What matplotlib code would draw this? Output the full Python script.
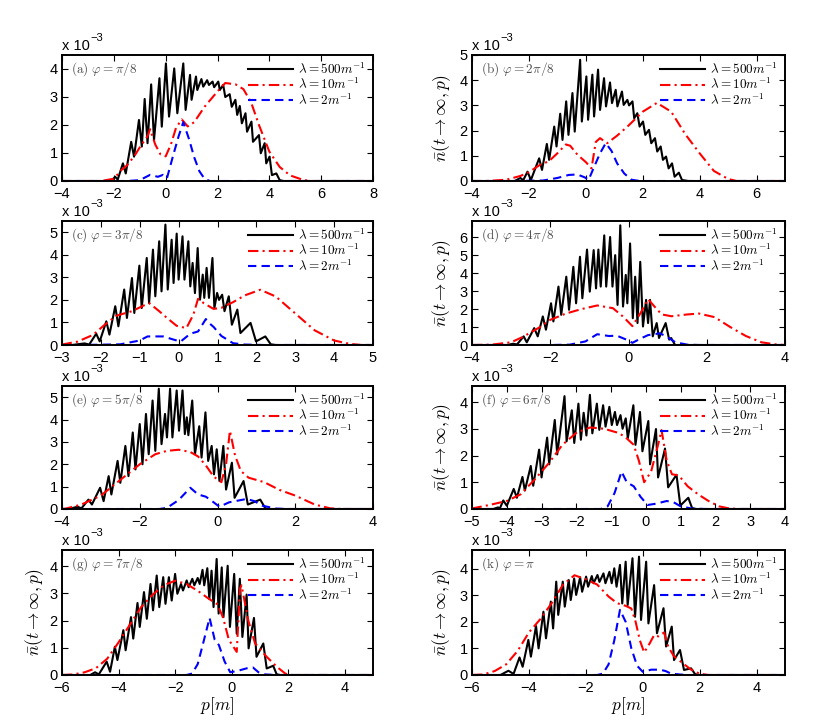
import matplotlib
matplotlib.use("Agg")
import matplotlib.pyplot as plt
from matplotlib.ticker import MultipleLocator
import numpy as np

plt.rcParams["font.family"] = ["Liberation Sans", "DejaVu Sans"]
plt.rcParams["mathtext.fontset"] = "cm"

# all y values are in units of 1e-3
# ---- (a) phi = pi/8 ----
a_black_x = [-2.1, -1.95, -1.85, -1.65, -1.54, -1.33, -1.22, -1.03, -0.92, -0.81, -0.70, -0.56, -0.45, -0.24,
             -0.15, 0.01, 0.13, 0.33, 0.45, 0.68, 0.77, 0.94, 1.0, 1.17, 1.22, 1.38, 1.45, 1.6, 1.67, 1.81, 1.87,
             2.03, 2.09, 2.22, 2.3, 2.47, 2.55, 2.69, 2.76, 2.86, 2.94, 3.08, 3.14, 3.31, 3.37, 3.6, 3.67, 3.82,
             3.88, 4.01, 4.1, 4.27, 4.4, 4.55]
a_black_y = [0, 0.15, 0.05, 0.63, 0.27, 1.40, 0.87, 2.18, 1.23, 2.93, 1.35, 3.45, 1.46, 3.67, 1.94, 4.2, 2.3,
             4.02, 2.42, 4.2, 2.54, 3.79, 2.9, 3.73, 3.25, 3.64, 3.37, 3.6, 3.43, 3.55, 3.35, 3.55, 3.25, 3.43,
             3.0, 3.1, 2.65, 2.9, 2.36, 2.68, 2.06, 2.42, 1.76, 2.12, 1.4, 1.64, 0.99, 1.35, 0.63, 0.87, 0.21,
             0.27, 0.03, 0]
a_red_x = [-2.5, -2.0, -1.7, -1.5, -1.2, -1.0, -0.7, -0.6, -0.4, -0.2, 0.0, 0.2, 0.4, 0.62, 0.85, 1.1, 1.5,
           2.0, 2.3, 2.7, 3.0, 3.3, 3.6, 4.0, 4.4, 4.8, 5.3, 5.6]
a_red_y = [0, 0.08, 0.4, 0.55, 0.9, 1.2, 1.6, 1.85, 1.3, 0.95, 0.88, 1.3, 1.9, 2.2, 1.95, 2.1, 2.65, 3.2, 3.5,
           3.45, 3.28, 2.8, 2.0, 1.05, 0.5, 0.2, 0.04, 0]
a_blue_x = [-1.5, -1.0, -0.6, -0.3, -0.1, 0.05, 0.3, 0.5, 0.68, 0.9, 1.1, 1.3, 1.5, 1.7]
a_blue_y = [0, 0.03, 0.22, 0.15, 0.22, 0.1, 0.95, 1.6, 2.1, 1.5, 0.85, 0.35, 0.08, 0]

# ---- (b) phi = 2pi/8 ----
b_black_x = [-2.5, -2.3, -2.2, -2.05, -1.93, -1.64, -1.54, -1.37, -1.29, -1.11, -1.03, -0.9, -0.82, -0.69,
             -0.61, -0.47, -0.39, -0.2, -0.14, 0.02, 0.08, 0.23, 0.29, 0.43, 0.5, 0.64, 0.71, 0.85, 0.92, 1.05,
             1.11, 1.27, 1.33, 1.46, 1.52, 1.64, 1.7, 1.81, 1.89, 2.01, 2.09, 2.22, 2.3, 2.43, 2.51, 2.63, 2.71,
             2.82, 2.91, 3.03, 3.12, 3.27, 3.38, 3.6]
b_black_y = [0, 0.12, 0.03, 0.37, 0.04, 0.9, 0.44, 1.47, 0.84, 2.16, 1.37, 2.67, 1.63, 3.16, 1.83, 3.49, 1.96,
             4.81, 2.36, 4.15, 2.43, 4.22, 2.56, 4.42, 2.82, 4.08, 2.96, 3.91, 3.09, 3.62, 2.96, 3.55, 3.02,
             3.22, 3.0, 3.16, 2.49, 2.69, 2.16, 2.36, 1.83, 2.03, 1.5, 1.7, 1.17, 1.37, 0.84, 0.97, 0.5, 0.7,
             0.17, 0.33, 0.04, 0]
b_red_x = [-3.5, -2.8, -2.3, -2.0, -1.6, -1.3, -1.0, -0.7, -0.55, -0.3, 0.0, 0.2, 0.35, 0.5, 0.75, 1.1, 1.5,
           2.0, 2.5, 3.0, 3.5, 4.0, 4.5, 5.0, 5.3]
b_red_y = [0, 0.05, 0.2, 0.35, 0.65, 0.78, 1.1, 1.45, 1.4, 1.05, 0.75, 0.5, 1.55, 1.7, 1.5, 1.8, 2.2, 2.75,
           3.1, 2.75, 1.85, 1.1, 0.4, 0.08, 0]
b_blue_x = [-2.5, -1.5, -1.0, -0.6, -0.3, -0.05, 0.1, 0.25, 0.5, 0.7, 0.9, 1.1, 1.35, 1.6, 1.9]
b_blue_y = [0, 0.02, 0.12, 0.24, 0.26, 0.15, 0.05, 0.45, 1.1, 1.5, 1.2, 0.7, 0.3, 0.05, 0]

# ---- (c) phi = 3pi/8 ----
c_black_x = [-2.75, -2.42, -2.3, -2.12, -2.03, -1.86, -1.78, -1.63, -1.55, -1.4, -1.33, -1.2, -1.14, -1.01,
             -0.95, -0.82, -0.76, -0.66, -0.6, -0.5, -0.44, -0.34, -0.28, -0.18, -0.13, -0.05, 0.0, 0.1, 0.15,
             0.25, 0.3, 0.36, 0.42, 0.49, 0.55, 0.62, 0.66, 0.72, 0.78, 0.87, 0.92, 0.99, 1.04, 1.12, 1.18, 1.29,
             1.37, 1.51, 1.59, 1.85, 1.99, 2.23, 2.37, 2.5]
c_black_y = [0, 0.07, 0.02, 0.5, 0.16, 1.05, 0.46, 1.72, 0.83, 2.46, 1.2, 2.97, 1.42, 3.52, 1.64, 3.86, 1.86,
             4.23, 2.16, 4.6, 2.38, 5.34, 2.46, 4.67, 2.75, 4.94, 2.9, 4.82, 2.9, 4.6, 2.6, 3.64, 2.3, 4.3, 2.01,
             3.12, 2.09, 3.42, 2.09, 3.86, 1.64, 2.31, 2.0, 2.23, 1.5, 2.16, 0.9, 1.57, 0.53, 0.98, 0.16, 0.38,
             0.03, 0]
c_red_x = [-3.0, -2.6, -2.2, -1.9, -1.6, -1.2, -0.9, -0.75, -0.5, -0.3, -0.05, 0.2, 0.38, 0.5, 0.65, 0.9, 1.1,
           1.4, 1.7, 2.1, 2.5, 3.0, 3.5, 4.0, 4.4, 4.7]
c_red_y = [0.02, 0.15, 0.45, 0.9, 1.3, 1.5, 1.75, 1.85, 1.5, 1.2, 0.85, 0.75, 1.35, 2.05, 1.85, 1.6, 1.65, 1.9,
           2.2, 2.45, 2.15, 1.4, 0.65, 0.2, 0.05, 0]
c_blue_x = [-2.5, -1.5, -1.0, -0.8, -0.4, -0.15, 0.05, 0.3, 0.5, 0.7, 0.8, 0.9, 1.1, 1.4, 1.7, 2.2]
c_blue_y = [0, 0.03, 0.2, 0.38, 0.38, 0.25, 0.15, 0.5, 0.6, 1.15, 0.95, 0.8, 0.4, 0.08, 0.02, 0]

# ---- (d) phi = 4pi/8 ----
d_black_x = [-3.1, -2.95, -2.85, -2.68, -2.6, -2.41, -2.32, -2.19, -2.11, -1.98, -1.92, -1.79, -1.72, -1.59,
             -1.52, -1.41, -1.34, -1.24, -1.18, -1.06, -0.99, -0.89, -0.83, -0.77, -0.71, -0.62, -0.57, -0.47,
             -0.41, -0.34, -0.28, -0.21, -0.14, -0.07, -0.03, 0.04, 0.11, 0.17, 0.23, 0.3, 0.37, 0.45, 0.5, 0.55,
             0.62, 0.72, 0.78, 0.95, 1.04, 1.09, 1.19]
d_black_y = [0, 0.07, 0.03, 0.48, 0.15, 0.94, 0.48, 1.59, 0.85, 2.32, 1.31, 3.25, 1.68, 3.8, 1.96, 4.35, 2.32,
             4.91, 2.6, 5.31, 2.97, 5.28, 3.15, 5.31, 3.25, 6.1, 3.25, 6.01, 3.25, 5.0, 2.23, 6.66, 2.14, 3.9,
             2.32, 5.65, 1.49, 3.8, 1.22, 4.63, 1.03, 2.51, 1.22, 2.51, 0.48, 1.22, 0.39, 1.22, 0.3, 0.39, 0]
d_red_x = [-3.5, -3.0, -2.7, -2.3, -2.0, -1.6, -1.2, -0.8, -0.4, -0.15, 0.1, 0.3, 0.5, 0.7, 0.85, 1.1, 1.5,
           1.8, 2.2, 2.6, 3.0, 3.4, 3.8]
d_red_y = [0.02, 0.15, 0.45, 0.95, 1.4, 1.75, 2.0, 2.2, 2.05, 1.6, 1.05, 1.75, 2.55, 2.05, 1.7, 1.6, 1.7, 1.75,
           1.55, 1.0, 0.5, 0.15, 0.02]
d_blue_x = [-2.0, -1.5, -1.1, -0.8, -0.5, -0.3, 0.0, 0.1, 0.3, 0.5, 0.8, 0.95, 1.2, 1.5, 1.8]
d_blue_y = [0, 0.02, 0.2, 0.6, 0.5, 0.52, 0.25, 0.12, 0.35, 0.55, 0.65, 0.5, 0.15, 0.02, 0]

# ---- (e) phi = 5pi/8 ----
e_black_x = [-3.83, -3.6, -3.5, -3.32, -3.23, -3.02, -2.93, -2.8, -2.73, -2.57, -2.5, -2.37, -2.29, -2.18,
             -2.11, -2.0, -1.93, -1.84, -1.77, -1.67, -1.6, -1.51, -1.44, -1.35, -1.3, -1.22, -1.16, -1.05, -0.99,
             -0.9, -0.84, -0.79, -0.75, -0.65, -0.58, -0.47, -0.41, -0.31, -0.24, -0.15, -0.09, -0.02, 0.05, 0.15,
             0.22, 0.37, 0.44, 0.67, 0.78, 1.1, 1.23, 1.31]
e_black_y = [0, 0.1, 0.03, 0.42, 0.2, 0.95, 0.35, 1.47, 0.65, 2.15, 1.17, 2.82, 1.47, 3.42, 1.77, 3.8, 2.0,
             4.25, 2.45, 4.85, 2.6, 5.38, 2.9, 4.25, 3.2, 5.38, 3.2, 5.3, 3.5, 5.3, 3.35, 4.1, 3.3, 4.85, 2.45,
             3.7, 2.3, 4.32, 2.15, 2.82, 1.55, 2.67, 1.25, 2.82, 0.87, 2.07, 0.5, 1.25, 0.2, 0.42, 0.03, 0]
e_red_x = [-3.9, -3.5, -3.0, -2.5, -2.0, -1.6, -1.3, -1.0, -0.7, -0.5, -0.3, -0.1, 0.1, 0.22, 0.32, 0.45, 0.6,
           0.8, 1.2, 1.6, 2.0, 2.5, 2.9, 3.2]
e_red_y = [0.02, 0.2, 0.6, 1.3, 2.0, 2.45, 2.6, 2.65, 2.55, 2.35, 1.95, 1.45, 1.2, 2.0, 3.5, 2.4, 1.7, 1.4, 1.2,
           0.85, 0.6, 0.2, 0.03, 0]
e_blue_x = [-1.5, -1.3, -1.0, -0.7, -0.5, -0.3, -0.1, 0.05, 0.3, 0.6, 0.75, 0.95, 1.15, 1.5, 1.8]
e_blue_y = [0, 0.05, 0.4, 0.95, 0.65, 0.55, 0.3, 0.1, 0.3, 0.4, 0.45, 0.35, 0.15, 0.02, 0]

# ---- (f) phi = 6pi/8 ----
f_black_x = [-4.39, -4.25, -4.2, -4.1, -4.0, -3.8, -3.71, -3.55, -3.48, -3.31, -3.24, -3.07, -3.0, -2.84, -2.78,
             -2.62, -2.55, -2.34, -2.28, -2.13, -2.06, -1.94, -1.87, -1.79, -1.71, -1.61, -1.54, -1.41, -1.34,
             -1.23, -1.16, -1.05, -0.98, -0.89, -0.83, -0.73, -0.67, -0.58, -0.52, -0.36, -0.3, -0.17, -0.1, 0.07,
             0.12, 0.29, 0.35, 0.55, 0.64, 0.88, 0.99, 1.22, 1.33, 1.46]
f_black_y = [0, 0.06, 0.02, 0.32, 0.12, 0.75, 0.42, 1.2, 0.69, 1.61, 0.87, 2.22, 1.18, 2.67, 1.67, 3.33, 2.04,
             4.22, 2.53, 3.69, 2.47, 3.94, 2.59, 3.6, 2.75, 4.27, 2.83, 3.94, 2.96, 3.88, 3.08, 3.82, 3.14, 3.63,
             3.14, 3.51, 3.0, 3.39, 2.65, 3.88, 2.4, 3.63, 2.16, 3.29, 1.67, 2.99, 1.18, 2.26, 0.81, 1.28, 0.13,
             0.42, 0.03, 0]
f_red_x = [-5.0, -4.5, -4.0, -3.6, -3.2, -2.8, -2.4, -2.0, -1.6, -1.2, -0.8, -0.6, -0.35, -0.2, -0.05, 0.15,
           0.35, 0.45, 0.6, 0.75, 0.95, 1.2, 1.5, 1.8, 2.1, 2.4, 2.7]
f_red_y = [0.02, 0.15, 0.3, 0.55, 1.1, 1.7, 2.4, 2.85, 3.05, 3.0, 2.85, 2.7, 2.4, 1.8, 1.0, 1.4, 2.4, 2.95, 1.8,
           1.3, 1.25, 0.85, 0.55, 0.3, 0.1, 0.02, 0]
f_blue_x = [-1.3, -1.1, -0.9, -0.7, -0.55, -0.35, -0.15, 0.05, 0.3, 0.6, 0.8, 1.0, 1.3, 1.7]
f_blue_y = [0, 0.1, 0.6, 1.4, 1.0, 0.85, 0.45, 0.15, 0.2, 0.3, 0.25, 0.1, 0.02, 0]

# ---- (g) phi = 7pi/8 ----
g_black_x = [-5.0, -4.83, -4.7, -4.42, -4.3, -4.13, -4.04, -3.83, -3.75, -3.56, -3.48, -3.33, -3.25, -3.1, -3.0,
             -2.87, -2.78, -2.65, -2.56, -2.42, -2.34, -2.22, -2.12, -2.0, -1.92, -1.79, -1.72, -1.59, -1.52,
             -1.39, -1.32, -1.2, -1.13, -1.03, -0.97, -0.86, -0.79, -0.71, -0.64, -0.53, -0.46, -0.35, -0.29,
             -0.14, -0.06, 0.09, 0.18, 0.29, 0.38, 0.53, 0.6, 0.79, 0.88, 1.12, 1.24, 1.47, 1.59, 1.71]
g_black_y = [0, 0.1, 0.02, 0.49, 0.12, 1.04, 0.55, 1.65, 0.91, 2.13, 1.34, 2.65, 1.77, 3.05, 2.07, 3.35, 2.38,
             3.66, 2.5, 3.6, 2.62, 3.6, 2.74, 3.72, 2.99, 3.35, 3.11, 3.48, 3.23, 3.54, 3.3, 3.57, 3.35, 3.87, 3.3,
             3.93, 2.8, 3.84, 2.5, 4.27, 2.26, 3.96, 2.13, 4.02, 1.77, 3.72, 1.52, 3.54, 1.4, 2.96, 0.98, 2.1,
             0.67, 1.16, 0.24, 0.34, 0.03, 0]
g_red_x = [-5.6, -5.2, -4.8, -4.4, -4.0, -3.6, -3.2, -2.8, -2.4, -2.0, -1.6, -1.2, -0.8, -0.5, -0.3, -0.1, 0.18,
           0.3, 0.35, 0.59, 0.83, 1.24, 1.6, 1.9, 2.1]
g_red_y = [0.02, 0.1, 0.25, 0.6, 1.2, 1.85, 2.5, 2.95, 3.3, 3.47, 3.35, 3.1, 2.8, 2.6, 2.1, 1.3, 0.85, 3.2, 3.3,
           2.0, 1.16, 0.67, 0.3, 0.05, 0]
g_blue_x = [-1.6, -1.4, -1.2, -1.0, -0.78, -0.6, -0.45, -0.25, -0.05, 0.2, 0.55, 0.75, 0.95, 1.2, 1.6]
g_blue_y = [0, 0.05, 0.4, 1.2, 2.1, 1.3, 1.1, 0.5, 0.1, 0.15, 0.25, 0.28, 0.1, 0.02, 0]

# ---- (k) phi = pi ----
k_black_x = [-5.0, -4.72, -4.54, -4.33, -4.22, -4.02, -3.93, -3.75, -3.66, -3.49, -3.4, -3.23, -3.15, -3.04,
             -2.97, -2.81, -2.74, -2.6, -2.53, -2.41, -2.34, -2.2, -2.13, -1.99, -1.92, -1.79, -1.73, -1.59, -1.52,
             -1.38, -1.31, -1.17, -1.09, -1.0, -0.92, -0.8, -0.72, -0.6, -0.53, -0.36, -0.27, -0.13, -0.06, 0.12,
             0.2, 0.4, 0.5, 0.73, 0.82, 1.02, 1.1, 1.31, 1.45, 1.7, 1.84, 2.01]
k_black_y = [0, 0.16, 0.04, 0.66, 0.31, 1.32, 0.69, 1.84, 1.0, 2.38, 1.38, 2.76, 1.75, 3.51, 2.26, 3.51, 2.57,
             3.57, 2.82, 3.63, 3.01, 3.67, 3.13, 3.7, 3.32, 3.72, 3.45, 3.76, 3.5, 3.82, 3.45, 3.88, 3.45, 4.01,
             3.32, 4.14, 2.69, 4.26, 2.63, 4.39, 2.19, 4.45, 2.07, 4.26, 1.94, 3.38, 1.57, 2.51, 1.07, 1.82, 0.56,
             0.94, 0.19, 0.25, 0.03, 0]
k_red_x = [-5.6, -5.2, -4.8, -4.4, -4.0, -3.6, -3.2, -2.8, -2.4, -2.0, -1.6, -1.2, -0.9, -0.6, -0.4, -0.25,
           -0.1, 0.05, 0.25, 0.4, 0.55, 0.75, 0.9, 1.1, 1.4, 1.7, 2.0, 2.3]
k_red_y = [0.02, 0.15, 0.4, 0.9, 1.6, 2.1, 2.7, 3.4, 3.75, 3.6, 3.4, 2.95, 2.7, 2.6, 2.5, 2.0, 1.3, 0.85, 1.2,
           1.5, 1.45, 1.6, 1.05, 0.7, 0.45, 0.2, 0.05, 0]
k_blue_x = [-1.6, -1.4, -1.2, -1.0, -0.8, -0.6, -0.4, -0.2, 0.0, 0.3, 0.6, 0.8, 1.0, 1.3, 1.6]
k_blue_y = [0, 0.05, 0.4, 1.3, 2.45, 2.0, 1.0, 0.35, 0.12, 0.2, 0.2, 0.15, 0.05, 0.02, 0]

labels = [r"$\mathrm{(a)}\ \varphi=\pi/8$", r"$\mathrm{(b)}\ \varphi=2\pi/8$", r"$\mathrm{(c)}\ \varphi=3\pi/8$",
          r"$\mathrm{(d)}\ \varphi=4\pi/8$", r"$\mathrm{(e)}\ \varphi=5\pi/8$", r"$\mathrm{(f)}\ \varphi=6\pi/8$",
          r"$\mathrm{(g)}\ \varphi=7\pi/8$", r"$\mathrm{(k)}\ \varphi=\pi$"]
xlims = [(-4, 8), (-4, 7), (-3, 5), (-4, 4), (-4, 4), (-5, 4), (-6, 5), (-6, 5)]
ylims = [4.5, 5, 5.5, 6.9, 5.5, 4.6, 4.6, 4.7]
xsteps = [2, 2, 1, 2, 2, 1, 2, 2]
legend_names = [r"$\lambda=500m^{-1}$", r"$\lambda=10m^{-1}$", r"$\lambda=2m^{-1}$"]

curves = [
    (a_black_x, a_black_y, a_red_x, a_red_y, a_blue_x, a_blue_y),
    (b_black_x, b_black_y, b_red_x, b_red_y, b_blue_x, b_blue_y),
    (c_black_x, c_black_y, c_red_x, c_red_y, c_blue_x, c_blue_y),
    (d_black_x, d_black_y, d_red_x, d_red_y, d_blue_x, d_blue_y),
    (e_black_x, e_black_y, e_red_x, e_red_y, e_blue_x, e_blue_y),
    (f_black_x, f_black_y, f_red_x, f_red_y, f_blue_x, f_blue_y),
    (g_black_x, g_black_y, g_red_x, g_red_y, g_blue_x, g_blue_y),
    (k_black_x, k_black_y, k_red_x, k_red_y, k_blue_x, k_blue_y),
]

W, H = 830, 723
fig = plt.figure(figsize=(W / 100, H / 100), dpi=100)
col_px = [(62, 311), (472, 313)]
row_px = [(55, 126), (221, 124), (386, 123), (550, 125)]


def padded(x, y, lim):
    # curves sit on zero outside the region that was read
    return np.r_[lim[0], x, lim[1]], np.r_[0, y, 0]


for i, cv in enumerate(curves):
    r, c = divmod(i, 2)
    left, w = col_px[c]
    top, h = row_px[r]
    ax = fig.add_axes([left / W, 1 - (top + h) / H, w / W, h / H])
    lim = xlims[i]
    bx, by = padded(cv[0], cv[1], lim)
    rx, ry = padded(cv[2], cv[3], lim)
    ux, uy = padded(cv[4], cv[5], lim)
    ax.plot(bx, by, color="black", lw=1.5, solid_joinstyle="round", label=legend_names[0])
    ax.plot(rx, ry, color="red", lw=1.5, ls=(0, (5, 2, 1, 2)), label=legend_names[1])
    ax.plot(ux, uy, color="blue", lw=1.5, ls=(0, (4, 2.5)), label=legend_names[2])
    ax.set_xlim(lim)
    ax.set_ylim(0, ylims[i])
    ax.xaxis.set_major_locator(MultipleLocator(xsteps[i]))
    ax.yaxis.set_major_locator(MultipleLocator(1))
    ax.tick_params(direction="in", top=True, right=True, length=4, width=0.8, labelsize=10.5)
    ax.tick_params(axis="x", pad=4.5)
    ax.tick_params(axis="y", pad=3)
    for s in ax.spines.values():
        s.set_linewidth(1.4)
    ax.text(0.03, 0.955, labels[i], transform=ax.transAxes, ha="left", va="top", fontsize=9.5, color="#505050")
    ax.legend(loc="upper right", frameon=False, fontsize=9.5, handlelength=3.4, borderaxespad=0.3,
              labelspacing=0.0, handletextpad=0.4, borderpad=0.2)
    ax.text(0.0, 1.015, "x 10", transform=ax.transAxes, ha="left", va="bottom", fontsize=10.5)
    ax.annotate("\u22123", xy=(0.0, 1.015), xycoords="axes fraction", xytext=(20.5, 7),
                textcoords="offset points", ha="left", va="bottom", fontsize=8)
    if c == 1:
        ax.set_ylabel(r"$\bar{n}(t\rightarrow\infty,p)$", fontsize=12.5)
        ax.yaxis.set_label_coords(-0.062, 0.5)
    elif i == 6:
        ax.set_ylabel(r"$\bar{n}(t\rightarrow\infty,p)$", fontsize=12.5)
        ax.yaxis.set_label_coords(-0.05, 0.5)
    if r == 3:
        ax.set_xlabel(r"$p[m]$", fontsize=12.5, labelpad=0)

fig.savefig("out.png", dpi=100)
